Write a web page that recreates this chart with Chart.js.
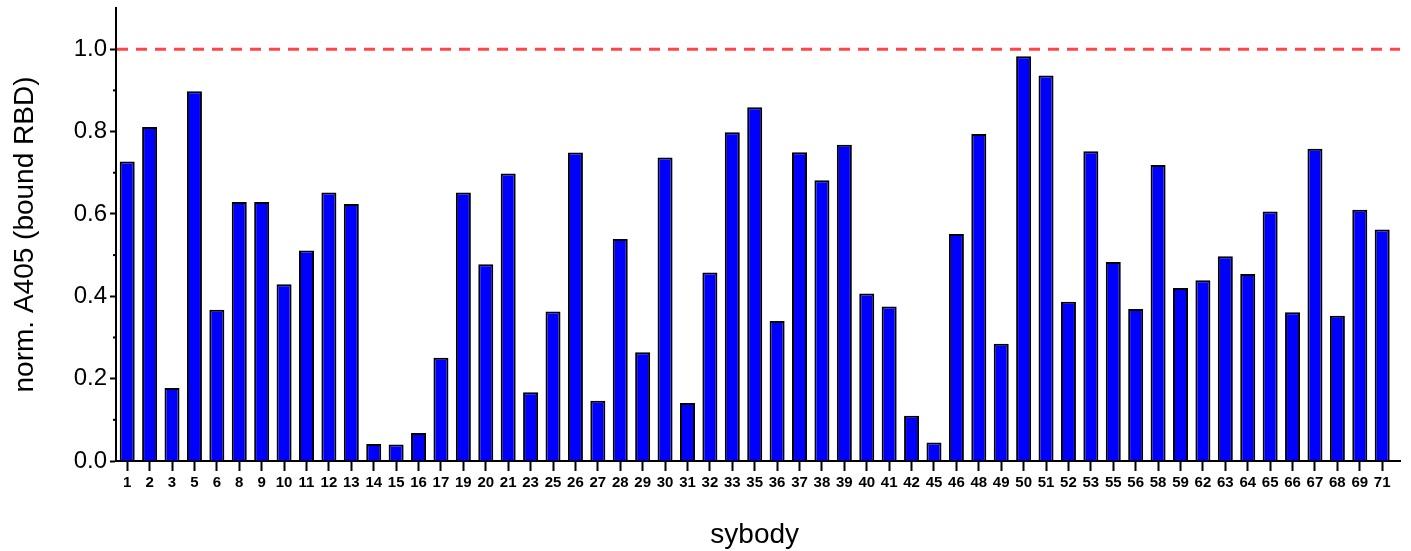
<!DOCTYPE html>
<html>
<head>
<meta charset="utf-8">
<script src="https://cdn.jsdelivr.net/npm/chart.js@4/dist/chart.umd.min.js"></script>
<style>
  html, body { margin: 0; padding: 0; background: #fff; }
  #wrap { width: 1411px; height: 551px; }
</style>
</head>
<body>
<div id="wrap"><canvas id="c" width="1411" height="551"></canvas></div>
<script>
const categories = ['1','2','3','5','6','8','9','10','11','12','13','14','15','16','17','19','20','21','23','25','26','27','28','29','30','31','32','33','35','36','37','38','39','40','41','42','45','46','48','49','50','51','52','53','55','56','58','59','62','63','64','65','66','67','68','69','71'];
const boundRBD = [0.727,0.811,0.177,0.898,0.367,0.629,0.629,0.429,0.511,0.652,0.624,0.041,0.040,0.068,0.251,0.652,0.478,0.698,0.167,0.363,0.749,0.146,0.539,0.264,0.737,0.141,0.458,0.798,0.859,0.340,0.750,0.682,0.768,0.407,0.375,0.110,0.045,0.551,0.794,0.285,0.983,0.936,0.387,0.752,0.483,0.369,0.719,0.420,0.439,0.497,0.454,0.606,0.361,0.758,0.353,0.610,0.562];
const referenceLevel = 1.0;
const yMajorTicks = [0.0, 0.2, 0.4, 0.6, 0.8, 1.0];
const yMinorTicks = [0.1, 0.3, 0.5, 0.7, 0.9];

const FONT = "'Liberation Sans', Arial, sans-serif";

const extras = {
  id: 'extras',
  afterDatasetsDraw(chart) {
    const ctx = chart.ctx;
    const ca = chart.chartArea;
    const y = chart.scales.y;
    ctx.save();
    const yr = y.getPixelForValue(referenceLevel);
    ctx.strokeStyle = '#ff4545';
    ctx.lineWidth = 3;
    ctx.setLineDash([11, 8]);
    ctx.beginPath();
    ctx.moveTo(ca.left + 1, yr);
    ctx.lineTo(1400, yr);
    ctx.stroke();
    ctx.setLineDash([]);
    ctx.strokeStyle = '#000';
    ctx.lineWidth = 2;
    yMinorTicks.forEach(v => {
      const p = y.getPixelForValue(v);
      ctx.beginPath();
      ctx.moveTo(ca.left - 3, p);
      ctx.lineTo(ca.left, p);
      ctx.stroke();
    });
    ctx.beginPath();
    ctx.moveTo(ca.right - 1, ca.bottom);
    ctx.lineTo(1401, ca.bottom);
    ctx.stroke();
    ctx.restore();
  }
};

new Chart(document.getElementById('c'), {
  type: 'bar',
  data: {
    labels: categories,
    datasets: [{
      data: boundRBD,
      backgroundColor: '#0000ff',
      borderColor: '#000000',
      borderWidth: 2,
      barPercentage: 0.67,
      categoryPercentage: 1.0
    }]
  },
  options: {
    responsive: false,
    animation: false,
    devicePixelRatio: 1,
    layout: { padding: { left: 0, right: 17.6, top: 8, bottom: 0 } },
    plugins: { legend: { display: false }, tooltip: { enabled: false } },
    scales: {
      x: {
        offset: true,
        grid: { display: true, drawOnChartArea: false, offset: false, drawTicks: true, tickLength: 10, tickColor: '#000', tickWidth: 2 },
        border: { display: true, color: '#000', width: 2 },
        ticks: { color: '#000', font: { family: FONT, size: 15, weight: 'bold' }, padding: 3, maxRotation: 0, autoSkip: false },
        title: { display: true, text: 'sybody', color: '#000', font: { family: FONT, size: 28, lineHeight: 1.1 }, padding: { top: 0, bottom: 0 } },
        afterFit(scale) { scale.height = 90; scale.paddingLeft = 0; scale.paddingRight = 0; }
      },
      y: {
        min: 0,
        max: 1.1,
        grid: { display: true, drawOnChartArea: false, drawTicks: true, tickLength: 6, tickColor: '#000', tickWidth: 2 },
        border: { display: true, color: '#000', width: 2 },
        afterBuildTicks(scale) { scale.ticks = yMajorTicks.map(v => ({ value: v })); },
        ticks: { color: '#000', font: { family: FONT, size: 24 }, padding: 3, callback: v => Number(v).toFixed(1) },
        title: { display: true, text: 'norm. A405 (bound RBD)', color: '#000', font: { family: FONT, size: 28 }, padding: { top: 8, bottom: 0 } },
        afterFit(scale) { scale.width = 116; scale.paddingTop = 0; scale.paddingBottom = 0; }
      }
    }
  },
  plugins: [extras]
});
</script>
</body>
</html>
